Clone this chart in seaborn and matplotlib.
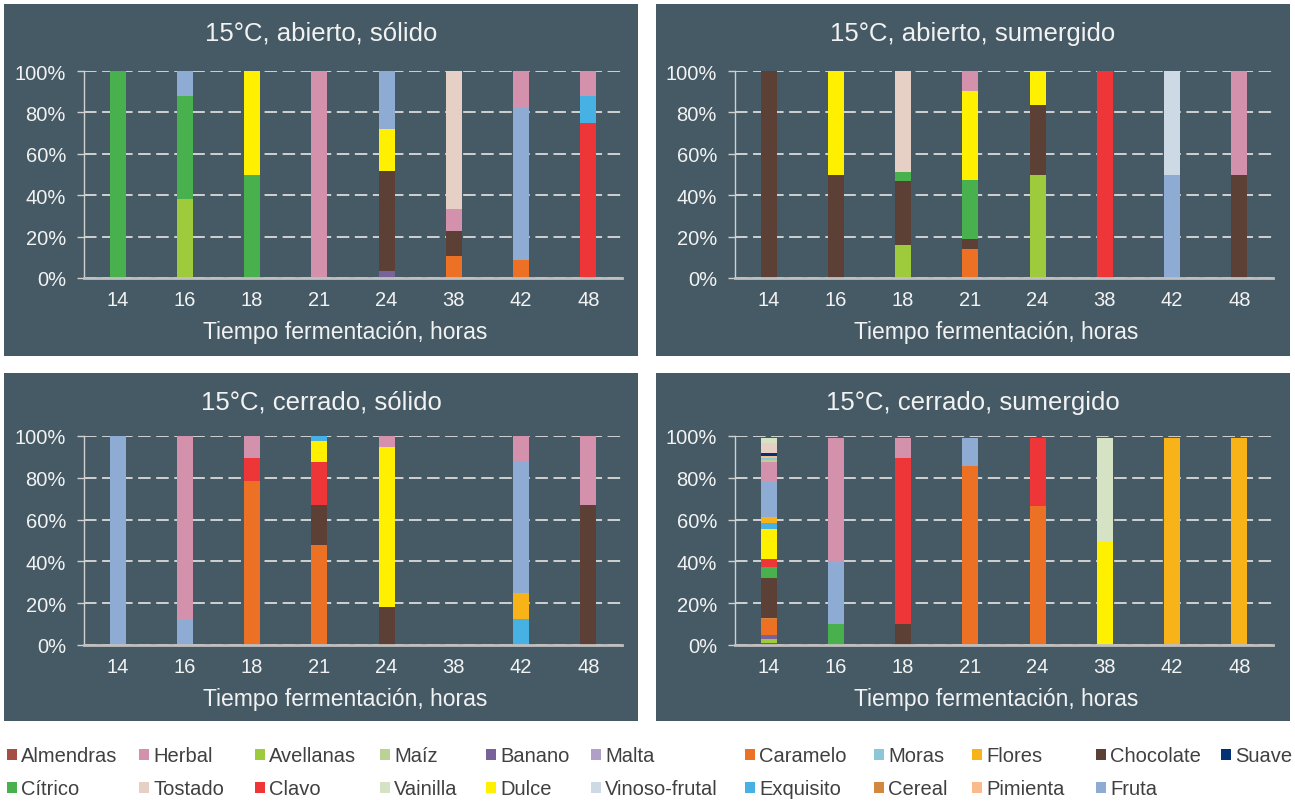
import matplotlib
matplotlib.use("Agg")
import matplotlib.pyplot as plt
from matplotlib.patches import Rectangle, Patch
import pandas as pd
import seaborn as sns

# ----------------------------------------
# Data (percent of panel responses per descriptor)
# ----------------------------------------
hours = ["14", "16", "18", "21", "24", "38", "42", "48"]

# stacking order (bottom -> top)
descriptors = ["Almendras", "Avellanas", "Banano", "Caramelo", "Cereal", "Chocolate",
               "Cítrico", "Clavo", "Dulce", "Exquisito", "Flores", "Fruta", "Herbal",
               "Maíz", "Malta", "Moras", "Pimienta", "Suave", "Tostado", "Vainilla",
               "Vinoso-frutal"]

abierto_solido = {
    "Avellanas": [0, 38, 0, 0, 0, 0, 0, 0],
    "Banano":    [0, 0, 0, 0, 3.5, 0, 0, 0],
    "Caramelo":  [0, 0, 0, 0, 0, 10.5, 8.5, 0],
    "Chocolate": [0, 0, 0, 0, 48, 12, 0, 0],
    "Cítrico":   [100, 50, 50, 0, 0, 0, 0, 0],
    "Clavo":     [0, 0, 0, 0, 0, 0, 0, 75],
    "Dulce":     [0, 0, 50, 0, 20.5, 0, 0, 0],
    "Exquisito": [0, 0, 0, 0, 0, 0, 0, 13],
    "Fruta":     [0, 12, 0, 0, 28, 0, 73.5, 0],
    "Herbal":    [0, 0, 0, 100, 0, 11, 18, 12],
    "Tostado":   [0, 0, 0, 0, 0, 66.5, 0, 0],
}

abierto_sumergido = {
    "Avellanas":     [0, 0, 16, 0, 50, 0, 0, 0],
    "Caramelo":      [0, 0, 0, 14, 0, 0, 0, 0],
    "Chocolate":     [100, 50, 31, 5, 33.5, 0, 0, 50],
    "Cítrico":       [0, 0, 4, 28.5, 0, 0, 0, 0],
    "Clavo":         [0, 0, 0, 0, 0, 100, 0, 0],
    "Dulce":         [0, 50, 0, 43, 16.5, 0, 0, 0],
    "Fruta":         [0, 0, 0, 0, 0, 0, 50, 0],
    "Herbal":        [0, 0, 0, 9.5, 0, 0, 0, 50],
    "Tostado":       [0, 0, 49, 0, 0, 0, 0, 0],
    "Vinoso-frutal": [0, 0, 0, 0, 0, 0, 50, 0],
}

cerrado_solido = {
    "Caramelo":  [0, 0, 78.5, 48, 0, 0, 0, 0],
    "Chocolate": [0, 0, 0, 19, 18, 0, 0, 67],
    "Clavo":     [0, 0, 11, 20.5, 0, 0, 0, 0],
    "Dulce":     [0, 0, 0, 10, 76.5, 0, 0, 0],
    "Exquisito": [0, 0, 0, 2.5, 0, 0, 12.5, 0],
    "Flores":    [0, 0, 0, 0, 0, 0, 12.5, 0],
    "Fruta":     [100, 12.5, 0, 0, 0, 0, 62.5, 0],
    "Herbal":    [0, 87.5, 10.5, 0, 5.5, 0, 12.5, 33],
}

cerrado_sumergido = {
    "Almendras": [0.8, 0, 0, 0, 0, 0, 0, 0],
    "Avellanas": [2, 0, 0, 0, 0, 0, 0, 0],
    "Banano":    [1.9, 0, 0, 0, 0, 0, 0, 0],
    "Caramelo":  [7.6, 0, 0, 85.5, 66.5, 0, 0, 0],
    "Cereal":    [0.8, 0, 0, 0, 0, 0, 0, 0],
    "Chocolate": [18.8, 0, 10, 0, 0, 0, 0, 0],
    "Cítrico":   [5.3, 10, 0, 0, 0, 0, 0, 0],
    "Clavo":     [4.1, 0, 79.5, 0, 32.5, 0, 0, 0],
    "Dulce":     [14.2, 0, 0, 0, 0, 50, 0, 0],
    "Exquisito": [2.7, 0, 0, 0, 0, 0, 0, 0],
    "Flores":    [2.9, 0, 0, 0, 0, 0, 99, 99],
    "Fruta":     [16.9, 29.5, 0, 13.5, 0, 0, 0, 0],
    "Herbal":    [9.4, 59.5, 9.5, 0, 0, 0, 0, 0],
    "Maíz":      [1, 0, 0, 0, 0, 0, 0, 0],
    "Moras":     [1, 0, 0, 0, 0, 0, 0, 0],
    "Pimienta":  [1, 0, 0, 0, 0, 0, 0, 0],
    "Suave":     [1.3, 0, 0, 0, 0, 0, 0, 0],
    "Tostado":   [5.1, 0, 0, 0, 0, 0, 0, 0],
    "Vainilla":  [2.2, 0, 0, 0, 0, 49, 0, 0],
}

titles = ["15°C, abierto, sólido", "15°C, abierto, sumergido",
          "15°C, cerrado, sólido", "15°C, cerrado, sumergido"]
xlabel = "Tiempo fermentación, horas"

colors = {
    "Almendras": "#A64D45", "Herbal": "#D491AC", "Avellanas": "#9ECB3B",
    "Maíz": "#BAD295", "Banano": "#77639A", "Malta": "#B09FC6",
    "Caramelo": "#EC7125", "Moras": "#8CC7D7", "Flores": "#F8B319",
    "Chocolate": "#5C4035", "Suave": "#033174", "Cítrico": "#48B04C",
    "Tostado": "#E6D0C6", "Clavo": "#EE3538", "Vainilla": "#D5E2C3",
    "Dulce": "#FFF000", "Vinoso-frutal": "#CDDAE6", "Exquisito": "#47B1E3",
    "Cereal": "#D3883F", "Pimienta": "#FBBA8C", "Fruta": "#8EACD3",
}

legend_row1 = ["Almendras", "Herbal", "Avellanas", "Maíz", "Banano", "Malta",
               "Caramelo", "Moras", "Flores", "Chocolate", "Suave"]
legend_row2 = ["Cítrico", "Tostado", "Clavo", "Vainilla", "Dulce", "Vinoso-frutal",
               "Exquisito", "Cereal", "Pimienta", "Fruta"]

# ----------------------------------------
# Layout (pixels)
# ----------------------------------------
W, H = 1295, 803
panel_bg = "#465A65"
txt_c = "#F2F2F2"
axis_c = "#D0D0D0"

plt.rcParams["font.family"] = ["Liberation Sans", "DejaVu Sans"]
plt.rcParams["lines.scale_dashes"] = False

fig = plt.figure(figsize=(W / 100, H / 100), dpi=100, facecolor="white")

panels = [(4, 5, 634, 352), (656, 5, 634, 352), (4, 374, 634, 348), (656, 374, 634, 348)]
plot_areas = [(84, 72, 538, 207), (735, 72, 538, 207), (84, 437, 538, 209), (735, 437, 538, 209)]
datasets = [abierto_solido, abierto_sumergido, cerrado_solido, cerrado_sumergido]


def draw_panel(ax, data):
    df = pd.DataFrame({d: data.get(d, [0] * len(hours)) for d in descriptors}, index=hours)
    cum = df.cumsum(axis=1)
    # draw cumulative heights from the top series down, so each segment stays visible
    for d in reversed(descriptors):
        if not (df[d] > 0).any():
            continue
        h = cum[d].where(df[d] > 0, 0)
        sns.barplot(x=hours, y=h.values, order=hours, color=colors[d], width=0.24,
                    saturation=1, errorbar=None, linewidth=0, ax=ax)


for (px, py, pw, ph), (ax_x, ax_y, ax_w, ax_h), data, title in zip(panels, plot_areas, datasets, titles):
    fig.patches.append(Rectangle((px / W, 1 - (py + ph) / H), pw / W, ph / H,
                                 transform=fig.transFigure, facecolor=panel_bg,
                                 edgecolor="none", zorder=-10))
    ax = fig.add_axes([ax_x / W, 1 - (ax_y + ax_h) / H, ax_w / W, ax_h / H])
    ax.set_zorder(1)
    ax.patch.set_alpha(0)
    draw_panel(ax, data)

    ax.set_ylim(0, 100)
    ax.set_yticks([0, 20, 40, 60, 80, 100])
    ax.set_yticklabels([f"{v}%" for v in range(0, 101, 20)])
    ax.set_xlabel("")
    ax.set_ylabel("")
    ax.set_axisbelow(True)
    ax.yaxis.grid(True, color="#DADADA", lw=1.3, ls=(0, (9, 4)))
    ax.xaxis.grid(False)
    for s in ["top", "right"]:
        ax.spines[s].set_visible(False)
    ax.spines["left"].set_color(axis_c)
    ax.spines["left"].set_linewidth(1)
    ax.spines["bottom"].set_color("#BFBFBF")
    ax.spines["bottom"].set_linewidth(2)
    ax.tick_params(axis="x", length=0, pad=9, labelsize=14.5, labelcolor=txt_c)
    ax.tick_params(axis="y", length=5, width=1, color=axis_c, pad=8,
                   labelsize=14.5, labelcolor=txt_c)

    fig.text((px + pw / 2) / W, 1 - (py + 29) / H, title, ha="center", va="center",
             fontsize=18.5, color=txt_c)
    fig.text((ax_x + ax_w / 2 - 8) / W, 1 - (ax_y + ax_h + 54) / H, xlabel,
             ha="center", va="center", fontsize=16.5, color=txt_c)

# ----------------------------------------
# Legend (one entry per slot, Excel-like column positions)
# ----------------------------------------
legend_x = [7, 139, 255, 380, 486, 591, 745, 874, 972, 1096, 1221]
for row, y in [(legend_row1, 757), (legend_row2, 790)]:
    for name, x in zip(row, legend_x):
        fig.legend(handles=[Patch(facecolor=colors[name], edgecolor="none", label=name)],
                   loc="center left", bbox_to_anchor=(x / W, 1 - y / H),
                   frameon=False, borderpad=0, borderaxespad=0,
                   handlelength=0.5, handleheight=0.5, handletextpad=0.2,
                   prop={"family": ["Liberation Sans", "DejaVu Sans"], "size": 14.5},
                   labelcolor="#404040")

fig.savefig("out.png", dpi=100, facecolor="white")
